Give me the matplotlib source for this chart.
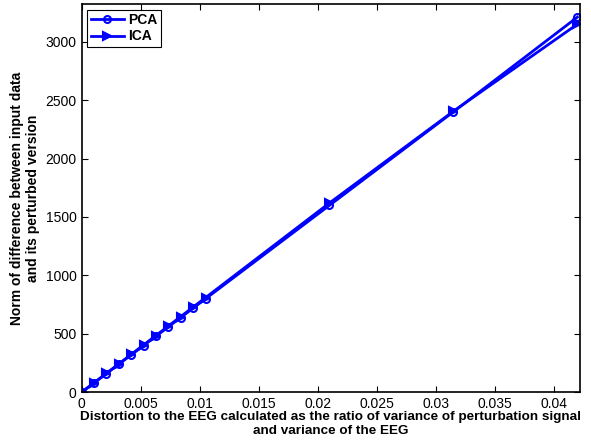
import matplotlib
matplotlib.use("Agg")
import matplotlib.pyplot as plt

plt.rcParams['font.family'] = ['Liberation Sans', 'DejaVu Sans']

# distortion (ratio of variances)
distortion = [0, 0.00105, 0.0021, 0.00315, 0.0042, 0.00525, 0.0063,
              0.00735, 0.0084, 0.00945, 0.0105, 0.021, 0.0315, 0.042]
# norm of difference
pca_norm = [0, 80, 160, 240, 320, 400, 480, 560, 640, 720, 800, 1600, 2400, 3210]
ica_norm = [0, 81, 162, 243, 324, 405, 486, 567, 648, 729, 810, 1620, 2405, 3150]

fig = plt.figure(figsize=(5.91, 4.44), dpi=100)
ax = fig.add_axes([0.138, 0.1164, 0.843, 0.874])

ax.plot(distortion, pca_norm, color='blue', lw=2, marker='o', ms=5,
        mfc='none', mew=1.5, label='PCA')
ax.plot(distortion, ica_norm, color='blue', lw=2, marker='>', ms=6,
        mfc='blue', mew=1.5, label='ICA')

ax.set_xlim(0, 0.0422)
ax.set_ylim(0, 3320)
ax.set_xticks([0, 0.005, 0.01, 0.015, 0.02, 0.025, 0.03, 0.035, 0.04])
ax.set_xticklabels(['0', '0.005', '0.01', '0.015', '0.02', '0.025', '0.03', '0.035', '0.04'])
ax.set_yticks(range(0, 3001, 500))
ax.tick_params(direction='in', top=True, right=True, labelsize=10, length=4, width=0.8)
for s in ax.spines.values():
    s.set_linewidth(1.2)

ax.set_xlabel('Distortion to the EEG calculated as the ratio of variance of perturbation signal\n'
              'and variance of the EEG', fontsize=9.7, fontweight='bold', labelpad=0)
ax.set_ylabel('Norm of difference between input data\nand its perturbed version',
              fontsize=10, fontweight='bold')
ax.yaxis.set_label_coords(-0.084, 0.5)

leg = ax.legend(loc='upper left', prop={'weight': 'bold', 'size': 10},
                fancybox=False, edgecolor='black', framealpha=1,
                handlelength=2.4, borderaxespad=0.4, labelspacing=0.15,
                handletextpad=0.3, borderpad=0.25)
leg.get_frame().set_linewidth(0.8)

fig.savefig('out.png', dpi=100)
